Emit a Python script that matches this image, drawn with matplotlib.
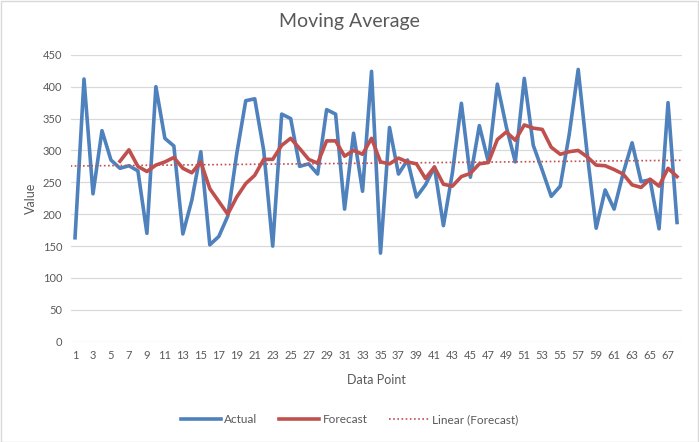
import numpy as np
import matplotlib
matplotlib.use("Agg")
import matplotlib.pyplot as plt

plt.rcParams['font.family'] = ['Lato', 'DejaVu Sans']

# data
points = list(range(1, 69))
actual = [163, 412, 232, 331, 285, 272, 276, 268, 170, 400,
          319, 307, 169, 222, 298, 152, 165, 197, 295, 378,
          381, 300, 150, 357, 350, 275, 279, 263, 364, 357,
          208, 327, 236, 424, 139, 336, 263, 285, 227, 246,
          274, 182, 265, 374, 258, 339, 282, 404, 337, 282,
          413, 308, 269, 228, 244, 325, 427, 295, 178, 238,
          208, 264, 312, 251, 254, 177, 375, 187]
fc_points = list(range(6, 69))
forecast = [283, 301, 275, 267, 277, 282, 289, 272, 265, 282,
            240, 220, 200, 227, 248, 261, 286, 286, 308, 319,
            303, 286, 280, 315, 315, 291, 300, 294, 319, 282,
            279, 288, 282, 279, 256, 274, 247, 244, 259, 264,
            279, 281, 317, 329, 316, 340, 335, 333, 305, 294,
            298, 300, 290, 277, 276, 270, 263, 246, 242, 255,
            244, 272, 259]

blue = '#4F81BD'
red = '#C0504D'
grey = '#595959'

fig = plt.figure(figsize=(6.99, 4.42), dpi=100)
ax = fig.add_axes([0.1009, 0.2269, 0.8741, 0.6491])

ax.plot(points, actual, color=blue, lw=2.6, label='Actual', solid_joinstyle='round')
ax.plot(fc_points, forecast, color=red, lw=2.6, label='Forecast', solid_joinstyle='round')

# linear trendline of the forecast series
k, b = np.polyfit(fc_points, forecast, 1)
tx = np.array([0.5, 68.5])
ax.plot(tx, k * tx + b, color=red, lw=1.2, ls=(0, (1, 1.5)), label='Linear (Forecast)')

ax.set_xlim(0.5, 68.5)
ax.set_ylim(0, 450)
ax.set_yticks(range(0, 451, 50))
ax.set_xticks(points[::2])
ax.tick_params(length=0, labelsize=8, colors=grey, pad=6)
ax.grid(axis='y', color='#d9d9d9', lw=0.9)
ax.set_axisbelow(True)
for s in ax.spines.values():
    s.set_visible(False)

fig.suptitle('Moving Average', fontsize=14, color=grey, x=0.5, y=0.97)
ax.set_xlabel('Data Point', fontsize=9, color=grey, labelpad=9)
ax.set_ylabel('Value', fontsize=9, color=grey, labelpad=4)

fig.legend(loc='center', bbox_to_anchor=(0.5, 0.05), ncol=3, frameon=False,
           fontsize=8.5, labelcolor=grey, handlelength=3.4, handletextpad=0.3,
           columnspacing=1.8)

fig.patches.append(plt.Rectangle((0.001, 0.001), 0.997, 0.997, transform=fig.transFigure,
                                 fill=False, edgecolor='#d9d9d9', lw=1))

fig.savefig('out.png', dpi=100)
